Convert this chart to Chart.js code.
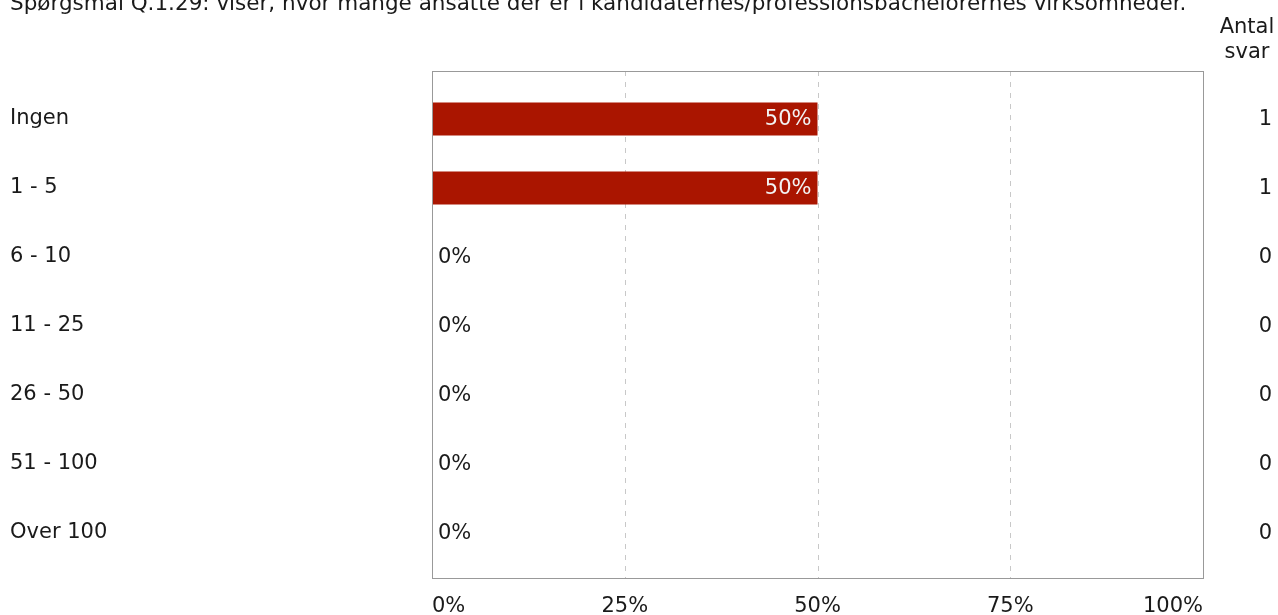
<!DOCTYPE html>
<html>
<head>
<meta charset="utf-8">
<script src="https://cdn.jsdelivr.net/npm/chart.js@4.4.1/dist/chart.umd.min.js"></script>
<style>
  html, body { margin: 0; padding: 0; background: #ffffff; }
  #wrap { position: relative; width: 1278px; height: 615px; }
</style>
</head>
<body>
<div id="wrap"><canvas id="c" width="1278" height="615"></canvas></div>
<script>
const titleText = "Spørgsmål Q.1.29: viser, hvor mange ansatte der er i kandidaternes/professionsbachelorernes virksomheder.";
const categories = ["Ingen", "1 - 5", "6 - 10", "11 - 25", "26 - 50", "51 - 100", "Over 100"];
const percentValues = [50, 50, 0, 0, 0, 0, 0];
const answerCounts = [1, 1, 0, 0, 0, 0, 0];
const xTicks = [0, 25, 50, 75, 100];
const countHeader = ["Antal", "svar"];

const FONT = "'DejaVu Sans', Verdana, sans-serif";
const FS = 21;

const extras = {
  id: 'extras',
  beforeDatasetsDraw(chart) {
    const ctx = chart.ctx, a = chart.chartArea, x = chart.scales.x;
    const top = a.top - 13.5, bottom = a.bottom + 10.5;
    ctx.save();
    ctx.strokeStyle = '#c8c8c8';
    ctx.lineWidth = 1;
    ctx.setLineDash([5, 6]);
    xTicks.forEach(t => {
      if (t === 0 || t === 100) return;
      const px = Math.round(x.getPixelForValue(t)) + 0.5;
      ctx.beginPath();
      ctx.moveTo(px, top);
      ctx.lineTo(px, bottom);
      ctx.stroke();
    });
    ctx.restore();
  },
  afterDatasetsDraw(chart) {
    const ctx = chart.ctx, a = chart.chartArea, x = chart.scales.x, y = chart.scales.y;
    const top = a.top - 13.5, bottom = a.bottom + 10.5;
    ctx.save();
    ctx.strokeStyle = '#999999';
    ctx.lineWidth = 1;
    ctx.setLineDash([]);
    ctx.strokeRect(Math.round(a.left) + 0.5, Math.round(top) + 0.5, Math.round(a.right - a.left), Math.round(bottom - top));
    ctx.font = FS + 'px ' + FONT;
    ctx.textBaseline = 'middle';
    percentValues.forEach((v, i) => {
      const cy = y.getPixelForValue(i);
      if (v > 0) {
        ctx.fillStyle = '#f2f2f2';
        ctx.textAlign = 'right';
        ctx.fillText(v + '%', x.getPixelForValue(v) - 6, cy + 1);
      } else {
        ctx.fillStyle = '#1a1a1a';
        ctx.textAlign = 'left';
        ctx.fillText(v + '%', a.left + 6, cy + 1);
      }
      ctx.fillStyle = '#1a1a1a';
      ctx.textAlign = 'right';
      ctx.fillText(String(answerCounts[i]), 1272, cy + 1);
    });
    ctx.fillStyle = '#1a1a1a';
    ctx.textBaseline = 'alphabetic';
    ctx.textAlign = 'center';
    ctx.fillText(countHeader[0], 1247, 33);
    ctx.fillText(countHeader[1], 1247, 58);
    ctx.font = '21.5px ' + FONT;
    ctx.textAlign = 'left';
    ctx.fillText(titleText, 10, 10);
    ctx.restore();
  }
};

new Chart(document.getElementById('c'), {
  type: 'bar',
  data: {
    labels: categories,
    datasets: [{
      data: percentValues,
      backgroundColor: '#aa1500',
      borderWidth: 0,
      barPercentage: 0.478,
      categoryPercentage: 1.0
    }]
  },
  options: {
    indexAxis: 'y',
    responsive: false,
    animation: false,
    events: [],
    layout: { padding: { left: 10, right: 75, top: 84.5, bottom: 0 } },
    plugins: { legend: { display: false }, tooltip: { enabled: false } },
    scales: {
      x: {
        min: 0, max: 100,
        afterBuildTicks(scale) { scale.ticks = xTicks.map(v => ({ value: v })); },
        afterFit(scale) { scale.height = 47.5; },
        grid: { display: false, drawTicks: false },
        border: { display: false },
        ticks: {
          padding: 26,
          align: 'inner',
          color: '#1a1a1a',
          font: { family: FONT, size: FS },
          callback: v => v + '%'
        }
      },
      y: {
        grid: { display: false, drawTicks: false },
        border: { display: false },
        afterFit(scale) { scale.width = 422; },
        ticks: {
          crossAlign: 'far',
          color: '#1a1a1a',
          font: { family: FONT, size: FS },
          padding: 0
        }
      }
    }
  },
  plugins: [extras]
});
</script>
</body>
</html>
